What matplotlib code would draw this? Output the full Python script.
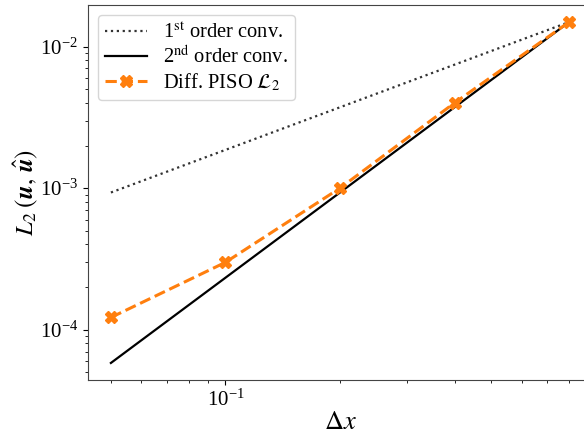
import numpy as np
import matplotlib
matplotlib.use("Agg")
import matplotlib.pyplot as plt
from matplotlib.ticker import NullFormatter

plt.rcParams['font.family'] = ['Liberation Serif', 'DejaVu Serif']
plt.rcParams['mathtext.fontset'] = 'stix'

# grid spacings and measured error
dx = [0.05, 0.1, 0.2, 0.4, 0.8]
err_piso = [1.22e-4, 2.99e-4, 1.0e-3, 4.0e-3, 1.49e-2]

dx_arr = np.array(dx)
first = err_piso[-1] * (dx_arr / dx[-1]) ** 1
second = err_piso[-1] * (dx_arr / dx[-1]) ** 2

fig = plt.figure(figsize=(5.84, 4.34), dpi=100)
ax = fig.add_axes([88 / 584, 1 - 380 / 434, 504 / 584, 375 / 434])

ax.loglog(dx, first, ':', color='#333333', lw=1.6, label=r'1$^{\rm st}$ order conv.')
ax.loglog(dx, second, '-', color='black', lw=1.6, label=r'2$^{\rm nd}$ order conv.')
ax.loglog(dx, err_piso, '--', color='#ff7f0e', lw=2.2, marker='X', ms=9,
          label=r'Diff. PISO $\mathcal{L}_2$')

ax.xaxis.set_minor_formatter(NullFormatter())
ax.tick_params(labelsize=15)
ax.set_xlabel(r'$\Delta x$', fontsize=19, labelpad=1)
ax.set_ylabel(r'$L_2\;(\mathbfit{u},\,\hat{\mathbfit{u}})$', fontsize=18, labelpad=0)

for s in ax.spines.values():
    s.set_color('#444444')

ax.legend(loc='upper left', fontsize=14.8, handlelength=2.0, borderpad=0.35,
          labelspacing=0.15, handletextpad=0.8, borderaxespad=0.5)

fig.savefig('out.png', dpi=100)
